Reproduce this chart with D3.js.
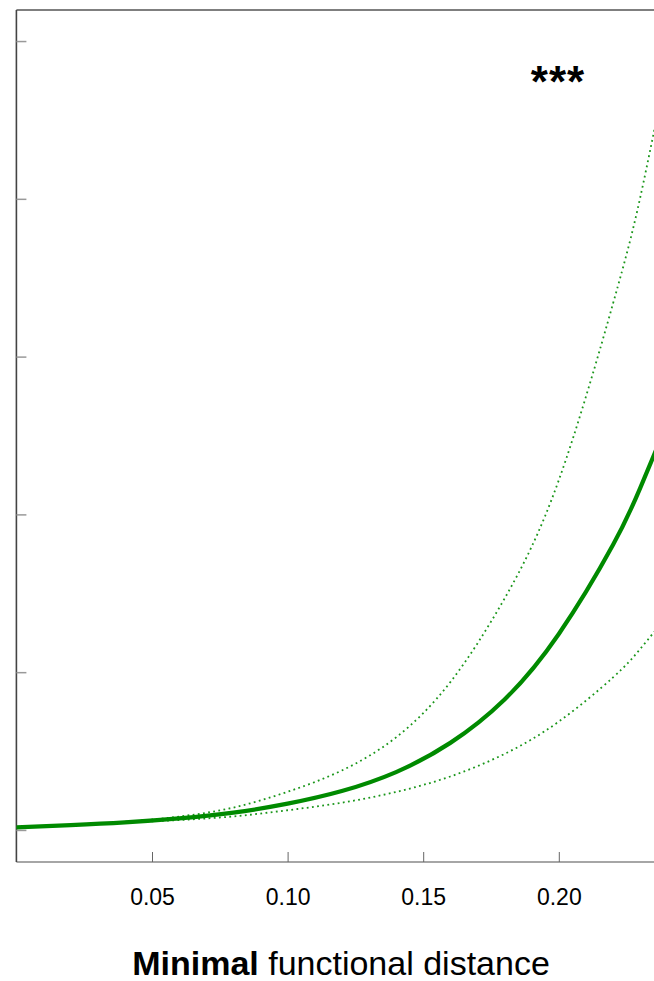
<!DOCTYPE html>
<html>
<head>
<meta charset="utf-8">
<script src="https://d3js.org/d3.v7.min.js"></script>
<style>
  body { margin: 0; background: #ffffff; }
</style>
</head>
<body>
<svg></svg>
<script>
// data
var distance = [0, 0.02, 0.04, 0.06, 0.08, 0.10, 0.12, 0.14, 0.16, 0.18, 0.20, 0.22, 0.23, 0.24];
var fitted   = [0.02, 0.034, 0.051, 0.076, 0.113, 0.17, 0.25, 0.37, 0.555, 0.83, 1.245, 1.81, 2.17, 2.58];
var upper    = [0.02, 0.036, 0.055, 0.088, 0.145, 0.245, 0.38, 0.59, 0.94, 1.47, 2.22, 3.34, 4.01, 4.85];
var lower    = [0.02, 0.034, 0.049, 0.066, 0.089, 0.128, 0.176, 0.244, 0.342, 0.485, 0.69, 0.97, 1.15, 1.36];
var xTicks = [0.05, 0.10, 0.15, 0.20];
var yTicks = [0, 1, 2, 3, 4, 5];

var svgWidth = 654, svgHeight = 981;
var plotLeft = 16.4, plotTop = 10, plotBottom = 862;

var svg = d3.select('svg')
    .attr("width", svgWidth)
    .attr("height", svgHeight);

var xScale = d3.scaleLinear()
    .domain([0, 0.25])
    .range([plotLeft, plotLeft + 0.25 * 2712]);

var yScale = d3.scaleLinear()
    .domain([-0.2, 5.2])
    .range([plotBottom, plotTop]);

svg.append("clipPath")
    .attr("id", "plotclip")
  .append("rect")
    .attr("x", plotLeft)
    .attr("y", plotTop)
    .attr("width", svgWidth - plotLeft)
    .attr("height", plotBottom - plotTop);

// frame
svg.append("line")
    .attr("x1", plotLeft).attr("x2", svgWidth)
    .attr("y1", plotTop).attr("y2", plotTop)
    .attr("stroke", "#555").attr("stroke-width", 1.3);
svg.append("line")
    .attr("x1", plotLeft).attr("x2", svgWidth)
    .attr("y1", plotBottom).attr("y2", plotBottom)
    .attr("stroke", "#888").attr("stroke-width", 1.3);
svg.append("line")
    .attr("x1", plotLeft).attr("x2", plotLeft)
    .attr("y1", plotTop).attr("y2", plotBottom)
    .attr("stroke", "#444").attr("stroke-width", 1.6);

// y ticks, pointing inward, no labels
svg.selectAll(".ytick")
    .data(yTicks)
    .enter()
    .append("line")
    .attr("class", "ytick")
    .attr("x1", plotLeft)
    .attr("x2", plotLeft + 10)
    .attr("y1", function(d) { return yScale(d); })
    .attr("y2", function(d) { return yScale(d); })
    .attr("stroke", "#999")
    .attr("stroke-width", 1.5);

// x ticks, pointing inward, with labels
var xAxis = d3.axisBottom(xScale)
    .tickValues(xTicks)
    .tickSizeInner(-10)
    .tickSizeOuter(0)
    .tickPadding(27)
    .tickFormat(d3.format(".2f"));

var gx = svg.append("g")
    .attr("transform", "translate(0," + plotBottom + ")")
    .call(xAxis);
gx.select(".domain").remove();
gx.selectAll(".tick line")
    .attr("stroke", "#666")
    .attr("stroke-width", 1);
gx.selectAll(".tick text")
    .style("font", "23px 'Liberation Sans', Arial, sans-serif")
    .attr("fill", "#000");

var line = d3.line()
    .x(function(d) { return xScale(d[0]); })
    .y(function(d) { return yScale(d[1]); })
    .curve(d3.curveNatural);

var plot = svg.append("g").attr("clip-path", "url(#plotclip)");

[upper, lower].forEach(function(series) {
    plot.append("path")
        .datum(distance.map(function(x, i) { return [x, series[i]]; }))
        .attr("d", line)
        .attr("fill", "none")
        .attr("stroke", "#1a961a")
        .attr("stroke-width", 1.8)
        .attr("stroke-dasharray", "1.8,3.4");
});

plot.append("path")
    .datum(distance.map(function(x, i) { return [x, fitted[i]]; }))
    .attr("d", line)
    .attr("fill", "none")
    .attr("stroke", "#008a00")
    .attr("stroke-width", 4.2);

// significance stars
svg.append("text")
    .attr("x", 558)
    .attr("y", 97)
    .attr("text-anchor", "middle")
    .style("font", "bold 44px 'Liberation Sans', Arial, sans-serif")
    .style("letter-spacing", "1px")
    .text("***");

// axis title
var title = svg.append("text")
    .attr("x", 341)
    .attr("y", 975)
    .attr("text-anchor", "middle")
    .style("font", "34px 'Liberation Sans', Arial, sans-serif")
    .attr("fill", "#000");
title.append("tspan").style("font-weight", "bold").text("Minimal");
title.append("tspan").text(" functional distance");
</script>
</body>
</html>
